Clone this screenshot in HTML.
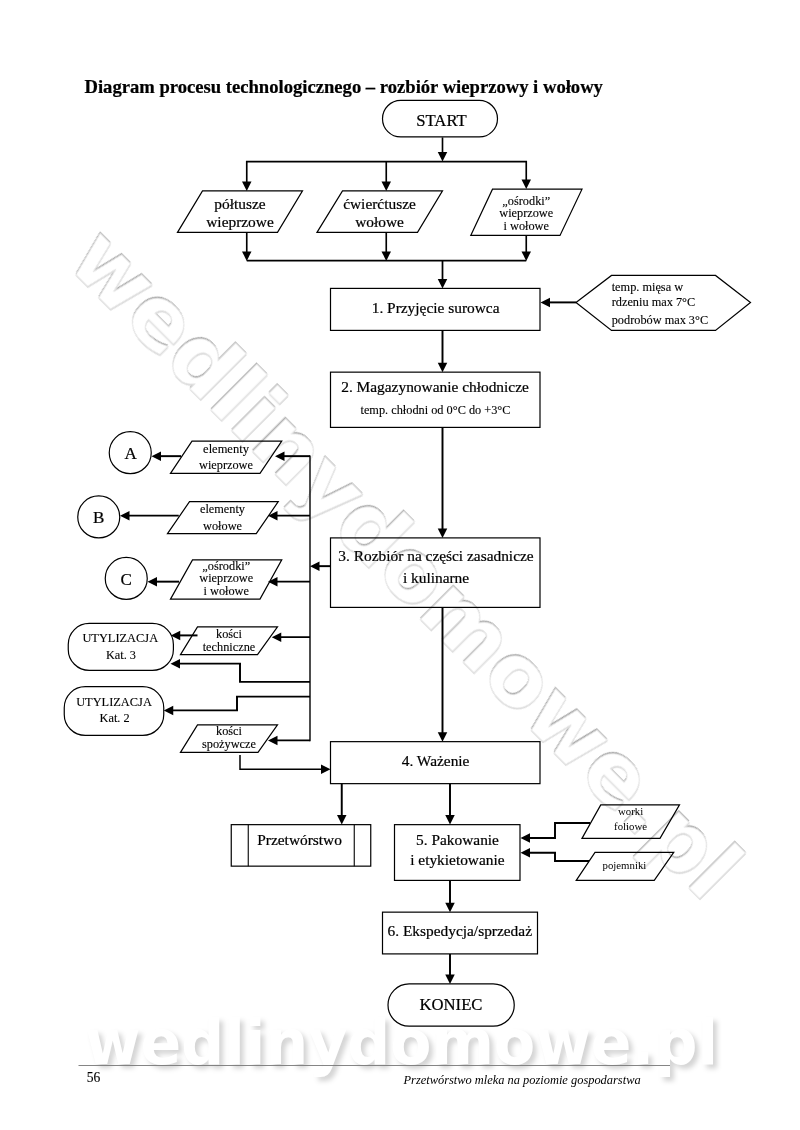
<!DOCTYPE html>
<html lang="pl">
<head>
<meta charset="utf-8">
<title>Diagram procesu technologicznego – rozbiór wieprzowy i wołowy</title>
<style>
html,body{margin:0;padding:0;background:#fff;}
body{width:800px;height:1130px;overflow:hidden;position:relative;}
svg{display:block;position:absolute;left:0;top:0;}
svg text{font-family:"Liberation Serif", serif;fill:#000;}
svg text.wm{font-family:"DejaVu Sans", "Liberation Sans", sans-serif;font-weight:bold;}
</style>
</head>
<body>
<svg width="800" height="1130" viewBox="0 0 800 1130">
<defs>
<filter id="soft" x="-5%" y="-20%" width="110%" height="140%"><feGaussianBlur stdDeviation="0.45"/></filter>
<filter id="blur" x="-5%" y="-20%" width="110%" height="150%"><feGaussianBlur stdDeviation="2.6"/></filter>
</defs>
<rect x="0" y="0" width="800" height="1130" fill="#fff"/>
<g id="watermark-diagonal" transform="translate(65 264) rotate(45)" filter="url(#soft)">
<text class="wm" x="-1.3" y="-1.3" font-size="85.4" textLength="905" lengthAdjust="spacingAndGlyphs" style="fill:#a2a2a2">wedlinydomowe.pl</text>
<text class="wm" x="1.2" y="1.2" font-size="85.4" textLength="905" lengthAdjust="spacingAndGlyphs" style="fill:#dadada">wedlinydomowe.pl</text>
<text class="wm" x="0" y="0" font-size="85.4" textLength="905" lengthAdjust="spacingAndGlyphs" style="fill:#fff;stroke:#e0e0e0;stroke-width:0.8">wedlinydomowe.pl</text>
</g>
<g id="watermark-bottom">
<text class="wm" x="89" y="1068" font-size="63" textLength="633" lengthAdjust="spacingAndGlyphs" style="fill:#000;fill-opacity:0.17" filter="url(#blur)">wedlinydomowe.pl</text>
<text class="wm" x="85" y="1064" font-size="63" textLength="633" lengthAdjust="spacingAndGlyphs" style="fill:#fff">wedlinydomowe.pl</text>
</g>
<path d="M78.5 1065.5 L670 1065.5" stroke="#777" stroke-width="0.9" fill="none"/>
<g id="diagram" style="opacity:0.999">
<g id="shapes" transform="translate(0 0.4)">
<rect x="382.5" y="100" width="115" height="36.5" rx="18.25" ry="18.25" fill="none" stroke="#000" stroke-width="1.2"/>
<path d="M442.5 137 L442.5 155.3" fill="none" stroke="#000" stroke-width="1.65" />
<polygon points="442.5,161 437.75,151.5 447.25,151.5" fill="#000"/>
<path d="M246.75 184 L246.75 161.25 L526.25 161.25 L526.25 182" fill="none" stroke="#000" stroke-width="1.65" />
<polygon points="246.75,190.5 242,181 251.5,181" fill="#000"/>
<polygon points="526.25,188.5 521.5,179 531,179" fill="#000"/>
<path d="M386.25 161.25 L386.25 184.8" fill="none" stroke="#000" stroke-width="1.65" />
<polygon points="386.25,190.5 381.5,181 391,181" fill="#000"/>
<polygon points="177.5,232 202.5,190.5 302.5,190.5 277.5,232" fill="none" stroke="#000" stroke-width="1.2"/>
<polygon points="317,232 342.5,190.5 442.5,190.5 417.5,232" fill="none" stroke="#000" stroke-width="1.2"/>
<polygon points="470.75,235 492.5,188.75 582,188.75 560,235" fill="none" stroke="#000" stroke-width="1.2"/>
<path d="M246.75 254 L246.75 232" fill="none" stroke="#000" stroke-width="1.65" />
<polygon points="246.75,260.5 242,251 251.5,251" fill="#000"/>
<path d="M386.25 254 L386.25 232" fill="none" stroke="#000" stroke-width="1.65" />
<polygon points="386.25,260.5 381.5,251 391,251" fill="#000"/>
<path d="M526.25 254 L526.25 235" fill="none" stroke="#000" stroke-width="1.65" />
<polygon points="526.25,260.5 521.5,251 531,251" fill="#000"/>
<path d="M246.75 260.25 L526.25 260.25" fill="none" stroke="#000" stroke-width="1.65" />
<path d="M442.5 260.25 L442.5 282.3" fill="none" stroke="#000" stroke-width="1.75" />
<polygon points="442.5,288 437.75,278.5 447.25,278.5" fill="#000"/>
<rect x="330.5" y="288" width="209.5" height="42" fill="none" stroke="#000" stroke-width="1.2"/>
<polygon points="576,302 611.5,275 715.5,275 750.5,302 715.5,330 611.5,330" fill="none" stroke="#000" stroke-width="1.2"/>
<path d="M576 302 L546.2 302" fill="none" stroke="#000" stroke-width="1.95" />
<polygon points="540.5,302 550,297.25 550,306.75" fill="#000"/>
<path d="M442.5 330 L442.5 366.05" fill="none" stroke="#000" stroke-width="1.95" />
<polygon points="442.5,371.75 437.75,362.25 447.25,362.25" fill="#000"/>
<rect x="330.5" y="371.75" width="209.5" height="55.25" fill="none" stroke="#000" stroke-width="1.2"/>
<path d="M442.5 427 L442.5 531.8" fill="none" stroke="#000" stroke-width="1.95" />
<polygon points="442.5,537.5 437.75,528 447.25,528" fill="#000"/>
<rect x="330.5" y="537.5" width="209.5" height="69.5" fill="none" stroke="#000" stroke-width="1.2"/>
<path d="M442.5 607 L442.5 735.55" fill="none" stroke="#000" stroke-width="1.95" />
<polygon points="442.5,741.25 437.75,731.75 447.25,731.75" fill="#000"/>
<path d="M330.5 565.75 L315.7 565.75" fill="none" stroke="#000" stroke-width="1.95" />
<polygon points="310,565.75 319.5,561 319.5,570.5" fill="#000"/>
<path d="M310 455 L310 740.75" fill="none" stroke="#000" stroke-width="1.4" />
<circle cx="130.25" cy="452.25" r="21" fill="none" stroke="#000" stroke-width="1.2"/>
<polygon points="170.5,473 192,440.75 281.75,440.75 260,473" fill="none" stroke="#000" stroke-width="1.2"/>
<path d="M310 455.75 L280.7 455.75" fill="none" stroke="#000" stroke-width="1.95" />
<polygon points="275,455.75 284.5,451 284.5,460.5" fill="#000"/>
<path d="M181 455.75 L157.2 455.75" fill="none" stroke="#000" stroke-width="1.95" />
<polygon points="151.5,455.75 161,451 161,460.5" fill="#000"/>
<circle cx="98.75" cy="516.5" r="21" fill="none" stroke="#000" stroke-width="1.2"/>
<polygon points="167.5,533.25 189.5,501.25 278.25,501.25 256.25,533.25" fill="none" stroke="#000" stroke-width="1.2"/>
<path d="M310 515.25 L273.7 515.25" fill="none" stroke="#000" stroke-width="1.95" />
<polygon points="268,515.25 277.5,510.5 277.5,520" fill="#000"/>
<path d="M178.75 515.25 L125.7 515.25" fill="none" stroke="#000" stroke-width="1.95" />
<polygon points="120,515.25 129.5,510.5 129.5,520" fill="#000"/>
<circle cx="126.25" cy="578" r="21" fill="none" stroke="#000" stroke-width="1.2"/>
<polygon points="170.5,598.75 192.5,559.5 281.75,559.5 260,598.75" fill="none" stroke="#000" stroke-width="1.2"/>
<path d="M310 581.25 L273.7 581.25" fill="none" stroke="#000" stroke-width="1.95" />
<polygon points="268,581.25 277.5,576.5 277.5,586" fill="#000"/>
<path d="M179 581.25 L153.2 581.25" fill="none" stroke="#000" stroke-width="1.95" />
<polygon points="147.5,581.25 157,576.5 157,586" fill="#000"/>
<rect x="68.25" y="623" width="105.15" height="47" rx="21" ry="21" fill="none" stroke="#000" stroke-width="1.2"/>
<polygon points="180.5,654.25 197.5,626.5 277.5,626.5 257.5,654.25" fill="none" stroke="#000" stroke-width="1.2"/>
<path d="M310 636.75 L277.45 636.75" fill="none" stroke="#000" stroke-width="1.95" />
<polygon points="271.75,636.75 281.25,632 281.25,641.5" fill="#000"/>
<path d="M197.5 635 L176.45 635" fill="none" stroke="#000" stroke-width="1.95" />
<polygon points="170.75,635 180.25,630.25 180.25,639.75" fill="#000"/>
<path d="M310 681.5 L240 681.5 L240 663.25 L176.2 663.25" fill="none" stroke="#000" stroke-width="1.95" />
<polygon points="170.5,663.25 180,658.5 180,668" fill="#000"/>
<rect x="64.25" y="686.25" width="99.5" height="48.75" rx="21" ry="21" fill="none" stroke="#000" stroke-width="1.2"/>
<path d="M310 696.25 L237 696.25 L237 710 L169.45 710" fill="none" stroke="#000" stroke-width="1.95" />
<polygon points="163.75,710 173.25,705.25 173.25,714.75" fill="#000"/>
<polygon points="180.5,752 197.5,724.5 277.5,724.5 258,752" fill="none" stroke="#000" stroke-width="1.2"/>
<path d="M310 740 L273.7 740" fill="none" stroke="#000" stroke-width="1.95" />
<polygon points="268,740 277.5,735.25 277.5,744.75" fill="#000"/>
<path d="M240 754.5 L240 768.75 L324.8 768.75" fill="none" stroke="#000" stroke-width="1.5" />
<polygon points="330.5,768.75 321,764 321,773.5" fill="#000"/>
<rect x="330.5" y="741.25" width="209.5" height="42" fill="none" stroke="#000" stroke-width="1.2"/>
<path d="M341.75 783.25 L341.75 818.3" fill="none" stroke="#000" stroke-width="1.95" />
<polygon points="341.75,824 337,814.5 346.5,814.5" fill="#000"/>
<path d="M450 783.25 L450 818.3" fill="none" stroke="#000" stroke-width="1.95" />
<polygon points="450,824 445.25,814.5 454.75,814.5" fill="#000"/>
<rect x="231.25" y="824.25" width="139.5" height="41.5" fill="none" stroke="#000" stroke-width="1.2"/>
<path d="M248.25 824.25 L248.25 865.75" fill="none" stroke="#000" stroke-width="1.1" />
<path d="M354.25 824.25 L354.25 865.75" fill="none" stroke="#000" stroke-width="1.1" />
<rect x="394.5" y="824.25" width="125.5" height="55.75" fill="none" stroke="#000" stroke-width="1.2"/>
<path d="M450 880 L450 906.05" fill="none" stroke="#000" stroke-width="1.95" />
<polygon points="450,911.75 445.25,902.25 454.75,902.25" fill="#000"/>
<polygon points="582,838 600.75,804.5 679.5,804.5 660,838" fill="none" stroke="#000" stroke-width="1.2"/>
<path d="M590 822.5 L555 822.5 L555 837.5 L526.2 837.5" fill="none" stroke="#000" stroke-width="1.95" />
<polygon points="520.5,837.5 530,832.75 530,842.25" fill="#000"/>
<polygon points="576.25,880 595,852 673.75,852 654.25,880" fill="none" stroke="#000" stroke-width="1.2"/>
<path d="M589 860.5 L555 860.5 L555 852.25 L526.2 852.25" fill="none" stroke="#000" stroke-width="1.95" />
<polygon points="520.5,852.25 530,847.5 530,857" fill="#000"/>
<rect x="382.5" y="911.75" width="155" height="41.75" fill="none" stroke="#000" stroke-width="1.2"/>
<path d="M450 953.5 L450 977.8" fill="none" stroke="#000" stroke-width="1.95" />
<polygon points="450,983.5 445.25,974 454.75,974" fill="#000"/>
<rect x="388" y="983.5" width="126.25" height="42.25" rx="21.125" ry="21.125" fill="none" stroke="#000" stroke-width="1.2"/>
</g>
<g id="labels">
<text x="84.5" y="92.5" font-size="18.63" text-anchor="start" font-weight="bold" font-style="normal"  stroke="#000" stroke-width="0.22">Diagram procesu technologicznego – rozbiór wieprzowy i wołowy</text>
<text x="441.5" y="125.5" font-size="16.7" text-anchor="middle" font-weight="normal" font-style="normal"  stroke="#000" stroke-width="0.22">START</text>
<text x="240" y="208.75" font-size="15.4" text-anchor="middle" font-weight="normal" font-style="normal"  stroke="#000" stroke-width="0.22">półtusze</text>
<text x="240" y="227.3" font-size="15.4" text-anchor="middle" font-weight="normal" font-style="normal"  stroke="#000" stroke-width="0.22">wieprzowe</text>
<text x="379.5" y="208.75" font-size="15.4" text-anchor="middle" font-weight="normal" font-style="normal"  stroke="#000" stroke-width="0.22">ćwierćtusze</text>
<text x="379.5" y="227.3" font-size="15.4" text-anchor="middle" font-weight="normal" font-style="normal"  stroke="#000" stroke-width="0.22">wołowe</text>
<text x="526.25" y="204.5" font-size="12.3" text-anchor="middle" font-weight="normal" font-style="normal"  stroke="#000" stroke-width="0.12">„ośrodki”</text>
<text x="526.25" y="216.75" font-size="12.3" text-anchor="middle" font-weight="normal" font-style="normal"  stroke="#000" stroke-width="0.12">wieprzowe</text>
<text x="526.25" y="229.5" font-size="12.3" text-anchor="middle" font-weight="normal" font-style="normal"  stroke="#000" stroke-width="0.12">i wołowe</text>
<text x="435.6" y="313" font-size="15.4" text-anchor="middle" font-weight="normal" font-style="normal"  stroke="#000" stroke-width="0.22">1. Przyjęcie surowca</text>
<text x="611.7" y="291.4" font-size="12.3" text-anchor="start" font-weight="normal" font-style="normal"  stroke="#000" stroke-width="0.12">temp. mięsa w</text>
<text x="611.7" y="305.6" font-size="12.3" text-anchor="start" font-weight="normal" font-style="normal"  stroke="#000" stroke-width="0.12">rdzeniu max 7°C</text>
<text x="611.7" y="324.4" font-size="12.3" text-anchor="start" font-weight="normal" font-style="normal"  stroke="#000" stroke-width="0.12">podrobów max 3°C</text>
<text x="435" y="391.75" font-size="15.4" text-anchor="middle" font-weight="normal" font-style="normal"  stroke="#000" stroke-width="0.22">2. Magazynowanie chłodnicze</text>
<text x="435.5" y="413.75" font-size="12.3" text-anchor="middle" font-weight="normal" font-style="normal"  stroke="#000" stroke-width="0.12">temp. chłodni od 0°C do +3°C</text>
<text x="436" y="560.7" font-size="15.4" text-anchor="middle" font-weight="normal" font-style="normal"  stroke="#000" stroke-width="0.22">3. Rozbiór na części zasadnicze</text>
<text x="436" y="582.5" font-size="15.4" text-anchor="middle" font-weight="normal" font-style="normal"  stroke="#000" stroke-width="0.22">i kulinarne</text>
<text x="130.6" y="458.75" font-size="17" text-anchor="middle" font-weight="normal" font-style="normal"  stroke="#000" stroke-width="0.22">A</text>
<text x="226" y="453.25" font-size="12.5" text-anchor="middle" font-weight="normal" font-style="normal"  stroke="#000" stroke-width="0.12">elementy</text>
<text x="226" y="469.25" font-size="12.3" text-anchor="middle" font-weight="normal" font-style="normal"  stroke="#000" stroke-width="0.12">wieprzowe</text>
<text x="98.75" y="523" font-size="17" text-anchor="middle" font-weight="normal" font-style="normal"  stroke="#000" stroke-width="0.22">B</text>
<text x="222.5" y="513.25" font-size="12.3" text-anchor="middle" font-weight="normal" font-style="normal"  stroke="#000" stroke-width="0.12">elementy</text>
<text x="222.5" y="529.5" font-size="12.3" text-anchor="middle" font-weight="normal" font-style="normal"  stroke="#000" stroke-width="0.12">wołowe</text>
<text x="126.25" y="585" font-size="17" text-anchor="middle" font-weight="normal" font-style="normal"  stroke="#000" stroke-width="0.22">C</text>
<text x="226.25" y="570" font-size="12.3" text-anchor="middle" font-weight="normal" font-style="normal"  stroke="#000" stroke-width="0.12">„ośrodki”</text>
<text x="226.25" y="582" font-size="12.3" text-anchor="middle" font-weight="normal" font-style="normal"  stroke="#000" stroke-width="0.12">wieprzowe</text>
<text x="226.25" y="594.5" font-size="12.3" text-anchor="middle" font-weight="normal" font-style="normal"  stroke="#000" stroke-width="0.12">i wołowe</text>
<text x="120.25" y="642" font-size="12.4" text-anchor="middle" font-weight="normal" font-style="normal"  stroke="#000" stroke-width="0.12">UTYLIZACJA</text>
<text x="121" y="658.75" font-size="12.3" text-anchor="middle" font-weight="normal" font-style="normal"  stroke="#000" stroke-width="0.12">Kat. 3</text>
<text x="229" y="637.5" font-size="12.3" text-anchor="middle" font-weight="normal" font-style="normal"  stroke="#000" stroke-width="0.12">kości</text>
<text x="229" y="650.5" font-size="12.3" text-anchor="middle" font-weight="normal" font-style="normal"  stroke="#000" stroke-width="0.12">techniczne</text>
<text x="114" y="705.75" font-size="12.4" text-anchor="middle" font-weight="normal" font-style="normal"  stroke="#000" stroke-width="0.12">UTYLIZACJA</text>
<text x="114.6" y="722" font-size="12.3" text-anchor="middle" font-weight="normal" font-style="normal"  stroke="#000" stroke-width="0.12">Kat. 2</text>
<text x="229" y="735" font-size="12.3" text-anchor="middle" font-weight="normal" font-style="normal"  stroke="#000" stroke-width="0.12">kości</text>
<text x="229" y="748.25" font-size="12.3" text-anchor="middle" font-weight="normal" font-style="normal"  stroke="#000" stroke-width="0.12">spożywcze</text>
<text x="435.6" y="766.25" font-size="15.4" text-anchor="middle" font-weight="normal" font-style="normal"  stroke="#000" stroke-width="0.22">4. Ważenie</text>
<text x="299.6" y="844.5" font-size="15.4" text-anchor="middle" font-weight="normal" font-style="normal"  stroke="#000" stroke-width="0.22">Przetwórstwo</text>
<text x="457.5" y="844.5" font-size="15.4" text-anchor="middle" font-weight="normal" font-style="normal"  stroke="#000" stroke-width="0.22">5. Pakowanie</text>
<text x="457.4" y="865" font-size="15.4" text-anchor="middle" font-weight="normal" font-style="normal"  stroke="#000" stroke-width="0.22">i etykietowanie</text>
<text x="630.6" y="814.5" font-size="10.8" text-anchor="middle" font-weight="normal" font-style="normal" >worki</text>
<text x="630.6" y="829.5" font-size="10.8" text-anchor="middle" font-weight="normal" font-style="normal" >foliowe</text>
<text x="624.4" y="868.75" font-size="10.8" text-anchor="middle" font-weight="normal" font-style="normal" >pojemniki</text>
<text x="459.75" y="936.25" font-size="15.4" text-anchor="middle" font-weight="normal" font-style="normal"  stroke="#000" stroke-width="0.22">6. Ekspedycja/sprzedaż</text>
<text x="451" y="1010" font-size="16.7" text-anchor="middle" font-weight="normal" font-style="normal"  stroke="#000" stroke-width="0.22">KONIEC</text>
<text x="86.75" y="1081.5" font-size="13.6" text-anchor="start" font-weight="normal" font-style="normal"  stroke="#000" stroke-width="0.12">56</text>
<text x="403.5" y="1084" font-size="12.42" text-anchor="start" font-weight="normal" font-style="italic" >Przetwórstwo mleka na poziomie gospodarstwa</text>
</g>
</g>
</svg>
</body>
</html>
